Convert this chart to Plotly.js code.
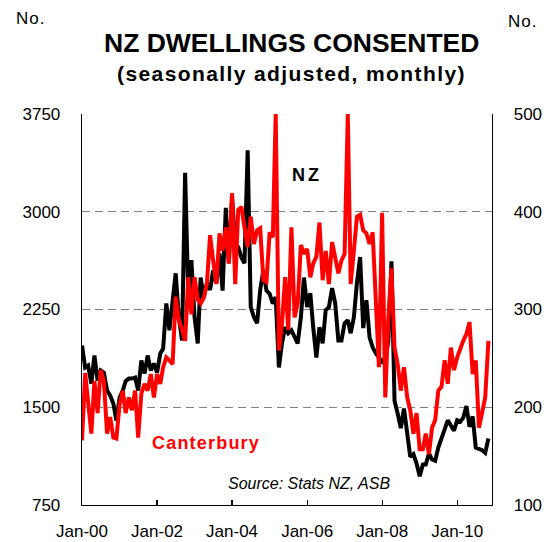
<!DOCTYPE html>
<html>
<head>
<meta charset="utf-8">
<script src="https://cdn.plot.ly/plotly-3.0.1.min.js"></script>
<style>
  html, body { margin: 0; padding: 0; background: #fff; }
  #chart { width: 552px; height: 542px; }
</style>
</head>
<body>
<div id="chart"></div>
<script>
// Monthly data, Jan-2000 onwards
const startYear = 2000;
const nzDwellings = [
  1974, 1805, 1820, 1682, 1897, 1705, 1782, 1766, 1628, 1590,
  1529, 1398, 1575, 1628, 1700, 1720, 1720, 1728, 1628, 1859,
  1759, 1897, 1782, 1836, 1766, 1913, 1950, 2297, 2091, 2300,
  2528, 2190, 2013, 3298, 2345, 2628, 2190, 1990, 2495, 2345,
  2450, 2400, 2550, 2450, 2680, 2395, 3030, 2605, 3110, 2755,
  2728, 2650, 2605, 3472, 2268, 2190, 2145, 2400, 2550, 2395,
  2370, 2295, 2345, 1805, 1990, 2115, 2068, 2091, 2040, 1990,
  2190, 2495, 2268, 2376, 2115, 1882, 2115, 1990, 2245, 2268,
  2414, 2299, 2013, 2013, 2145, 2168, 2068, 2190, 2453, 2653,
  2107, 2322, 2037, 1960, 1913, 1882, 1850, 1880, 2000, 2620,
  1550, 1450, 1340, 1490, 1300, 1120, 1140, 1070, 970, 1060,
  1060, 1145, 1100, 1090, 1190, 1250, 1330, 1400, 1360, 1320,
  1400, 1390, 1420, 1510, 1350, 1430, 1190, 1180, 1170, 1150,
  1260
];
const canterbury = [
  166, 235, 205, 173, 227, 194, 238, 227, 173, 190,
  169, 168, 203, 217, 194, 210, 197, 217, 169, 214,
  224, 217, 234, 210, 234, 224, 241, 251, 248, 244,
  313, 290, 279, 268, 333, 295, 333, 310, 306, 312,
  326, 376, 350, 326, 378, 360, 384, 347, 419, 326,
  402, 405, 384, 364, 395, 367, 381, 383, 330, 328,
  379, 374, 500, 258, 285, 333, 279, 384, 292, 306,
  366, 357, 362, 333, 347, 354, 389, 330, 360, 326,
  369, 354, 337, 350, 357, 500, 326, 360, 395, 397,
  381, 378, 367, 379, 313, 241, 399, 210, 290, 342,
  261, 244, 217, 241, 210, 197, 173, 194, 157, 157,
  173, 152, 179, 187, 217, 221, 248, 224, 261, 238,
  251, 261, 268, 275, 287, 234, 248, 179, 194, 210,
  268
];
const leftTicks = [750, 1500, 2250, 3000, 3750];
const rightTicks = [100, 200, 300, 400, 500];
const xTickVals = ['2000-01-01', '2002-01-01', '2004-01-01', '2006-01-01', '2008-01-01', '2010-01-01'];
const xTickText = ['Jan-00', 'Jan-02', 'Jan-04', 'Jan-06', 'Jan-08', 'Jan-10'];

const months = nzDwellings.map((_, i) => {
  const y = startYear + Math.floor(i / 12);
  const m = (i % 12) + 1;
  return y + '-' + String(m).padStart(2, '0') + '-01';
});

const FONT = 'Liberation Sans, Arial, sans-serif';

const traces = [
  {
    x: months, y: nzDwellings, type: 'scatter', mode: 'lines', name: 'NZ',
    line: { color: '#000000', width: 4 }, yaxis: 'y', hoverinfo: 'skip'
  },
  {
    x: months, y: canterbury, type: 'scatter', mode: 'lines', name: 'Canterbury',
    line: { color: '#FF0000', width: 4 }, yaxis: 'y2', hoverinfo: 'skip'
  }
];

const L = 82, R = 491.7, T = 114, B = 504.6, W = 552, H = 542;
function px(X) { return (X - L) / (R - L); }
function py(Y) { return (B - Y) / (B - T); }

const annotations = [
  { text: '<b>NZ DWELLINGS CONSENTED</b>', x: px(291), y: py(43), font: { size: 26.5, color: '#000' } },
  { text: '<b><span style="letter-spacing:1.4px">(seasonally adjusted, monthly)</span></b>', x: px(291), y: py(74), font: { size: 21, color: '#000' } },
  { text: '<span style="letter-spacing:1px">No.</span>', x: px(31), y: py(19), font: { size: 17, color: '#000' } },
  { text: '<span style="letter-spacing:1px">No.</span>', x: px(522), y: py(22), font: { size: 17, color: '#000' } },
  { text: '<b><span style="letter-spacing:3px">NZ</span></b>', x: px(307), y: py(175), font: { size: 18, color: '#000' } },
  { text: '<b><span style="letter-spacing:1.2px">Canterbury</span></b>', x: px(206), y: py(443), font: { size: 18, color: '#FF0000' } },
  { text: '<i>Source: Stats NZ, ASB</i>', x: px(309), y: py(483), font: { size: 16, color: '#000' } }
].map(a => Object.assign({ xref: 'paper', yref: 'paper', showarrow: false, xanchor: 'center', yanchor: 'middle' }, a, { font: Object.assign({ family: FONT }, a.font) }));

const layout = {
  width: W, height: H,
  margin: { l: L, r: W - R, t: T, b: H - B, pad: 0 },
  paper_bgcolor: '#ffffff', plot_bgcolor: '#ffffff',
  showlegend: false,
  font: { family: FONT, size: 17, color: '#000' },
  xaxis: {
    type: 'date',
    range: ['2000-01-01', '2010-12-06'],
    tickvals: xTickVals, ticktext: xTickText,
    ticks: 'inside', ticklen: 5, tickwidth: 1.2, tickcolor: '#000',
    showline: true, linecolor: '#000', linewidth: 1.3,
    showgrid: false, zeroline: false,
    ticklabelstandoff: 10,
    tickfont: { size: 17, family: FONT }
  },
  yaxis: {
    range: [750, 3750], tickvals: leftTicks,
    showline: true, linecolor: '#000', linewidth: 1.3,
    showgrid: true, gridcolor: '#808080', gridwidth: 1.3, griddash: '8px,5px',
    zeroline: false, ticks: '',
    ticklabelstandoff: 17,
    tickfont: { size: 17, family: FONT }
  },
  yaxis2: {
    range: [100, 500], tickvals: rightTicks,
    overlaying: 'y', side: 'right',
    showline: true, linecolor: '#000', linewidth: 1.3,
    showgrid: false, zeroline: false, ticks: '',
    ticklabelstandoff: 17,
    tickfont: { size: 17, family: FONT }
  },
  annotations: annotations
};

Plotly.newPlot('chart', traces, layout, { staticPlot: true, displayModeBar: false });
</script>
</body>
</html>
